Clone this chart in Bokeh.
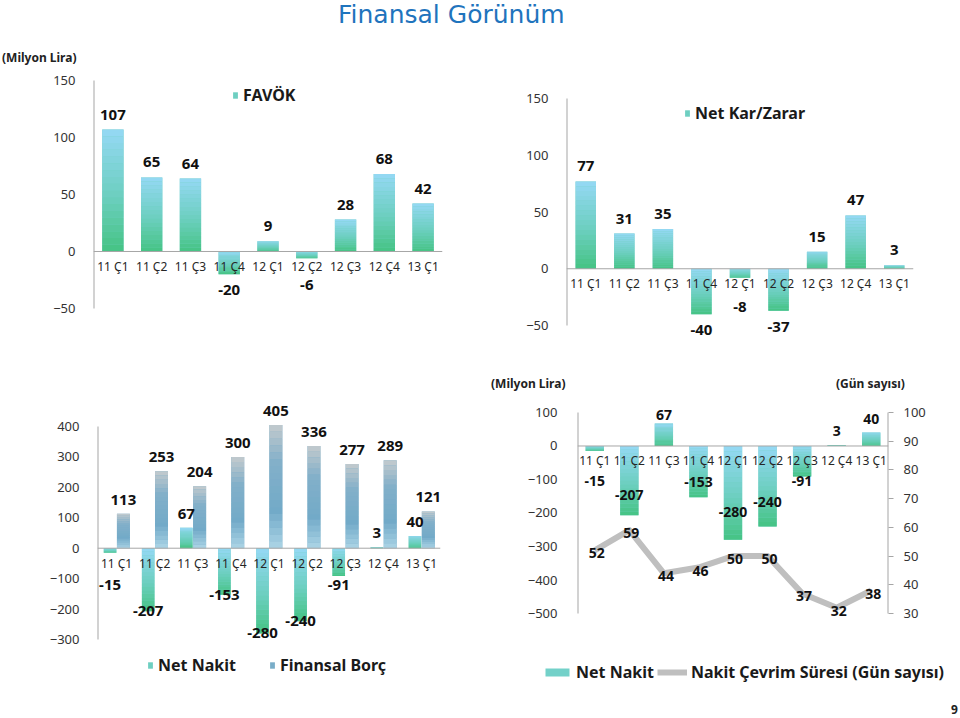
from bokeh.plotting import figure
from bokeh.models import (ColumnDataSource, LabelSet, Span, FixedTicker, Range1d,
                          FactorRange, LinearAxis, Legend, LegendItem, Div)
from bokeh.layouts import column, row
from bokeh.transform import dodge
from bokeh.embed import file_html
from bokeh.resources import INLINE
from bokeh.core.properties import value

# ---------------- data ----------------
quarters = ["11 Ç1", "11 Ç2", "11 Ç3", "11 Ç4", "12 Ç1", "12 Ç2", "12 Ç3", "12 Ç4", "13 Ç1"]
favok = [107, 65, 64, -20, 9, -6, 28, 68, 42]
net_kar_zarar = [77, 31, 35, -40, -8, -37, 15, 47, 3]
net_nakit = [-15, -207, 67, -153, -280, -240, -91, 3, 40]
finansal_borc = [113, 253, 204, 300, 405, 336, 277, 289, 121]
nakit_cevrim_gun = [52, 59, 44, 46, 50, 50, 37, 32, 38]

ticks_favok = [-50, 0, 50, 100, 150]
ticks_kar = [-50, 0, 50, 100, 150]
ticks_borc = [-300, -200, -100, 0, 100, 200, 300, 400]
ticks_nakit = [-500, -400, -300, -200, -100, 0, 100]
ticks_gun = [30, 40, 50, 60, 70, 80, 90, 100]

# ---------------- style ----------------
FONT = "Noto Sans"
AXIS_GRAY = "#a6a6a6"
GREEN_STOPS = [(0.0, "#95d9f5"), (0.55, "#6ccfbf"), (1.0, "#45c383")]
BORC_STOPS = [(0.0, "#c4cacd"), (0.3, "#83b0c9"), (0.7, "#72aac8"), (1.0, "#acd5e6")]
LINE_GRAY = "#bfbfbf"
N_SLICES = 18


def hex2rgb(h):
    h = h.lstrip("#")
    return tuple(int(h[i:i + 2], 16) for i in (0, 2, 4))


def mix(stops, t):
    for (t0, c0), (t1, c1) in zip(stops, stops[1:]):
        if t <= t1:
            f = (t - t0) / (t1 - t0) if t1 > t0 else 0.0
            a, b = hex2rgb(c0), hex2rgb(c1)
            return "#%02x%02x%02x" % tuple(round(a[i] + (b[i] - a[i]) * f) for i in range(3))
    return stops[-1][1]


def grad_bars(p, cats, vals, stops, width, offset=0.0, n=N_SLICES):
    xs, tops, bots, cols = [], [], [], []
    for c, v in zip(cats, vals):
        hi, lo = max(v, 0), min(v, 0)
        for k in range(n):
            xs.append(c)
            tops.append(hi - (hi - lo) * k / n)
            bots.append(hi - (hi - lo) * (k + 1) / n)
            cols.append(mix(stops, (k + 0.5) / n))
    base = ColumnDataSource(dict(x=list(cats), top=[max(v, 0) for v in vals],
                                 bottom=[min(v, 0) for v in vals]))
    p.vbar(x=dodge("x", offset, range=p.x_range), top="top", bottom="bottom", width=width,
           source=base, fill_color=mix(stops, 0.5), line_color=None)
    src = ColumnDataSource(dict(x=xs, top=tops, bottom=bots, color=cols))
    return p.vbar(x=dodge("x", offset, range=p.x_range), top="top", bottom="bottom", width=width,
                  source=src, fill_color="color", line_color=None)


def axis_line(p, ticks, side=-0.5, cat=None, y_range_name="default"):
    cat = quarters[0] if cat is None else cat
    src = ColumnDataSource(dict(x=[cat], y0=[min(ticks)], y1=[max(ticks)]))
    xs = dodge("x", side, range=p.x_range)
    p.segment(x0=xs, x1=xs, y0="y0", y1="y1", source=src, line_color=AXIS_GRAY,
              line_width=2, y_range_name=y_range_name)


def make_fig(height, left, right, bottom, yr, ticks):
    p = figure(width=480, height=height, x_range=FactorRange(*quarters),
               y_range=Range1d(*yr), output_backend="svg", toolbar_location=None,
               title=None, frame_align=False,
               min_border_left=left, min_border_right=right,
               min_border_top=0, min_border_bottom=bottom)
    p.xaxis.visible = False
    p.xgrid.visible = False
    p.ygrid.visible = False
    p.outline_line_color = None
    p.background_fill_color = "white"
    ax = p.yaxis[0]
    ax.ticker = FixedTicker(ticks=ticks)
    ax.axis_line_color = None
    ax.major_tick_line_color = None
    ax.minor_tick_line_color = None
    ax.major_label_text_font = FONT
    ax.major_label_text_font_size = "13px"
    ax.major_label_text_color = "#333333"
    ax.major_label_standoff = 12
    axis_line(p, ticks)
    p.add_layout(Span(location=0, dimension="width", line_color=AXIS_GRAY, line_width=1))
    return p


def cat_labels(p):
    src = ColumnDataSource(dict(x=quarters, y=[0] * len(quarters), t=quarters))
    p.add_layout(LabelSet(x="x", y="y", text="t", source=src, y_offset=-15,
                          text_align="center", text_baseline="middle",
                          text_font=value(FONT), text_font_size="12px", text_color="#262626"))


def val_labels(p, vals, anchors, offsets, offset=0.0, size="15px", y_range_name="default", x_off=0):
    src = ColumnDataSource(dict(x=quarters, y=anchors, t=[str(v) for v in vals], o=offsets))
    ls = LabelSet(x=dodge("x", offset, range=p.x_range), y="y", text="t", source=src,
                  y_offset="o", x_offset=x_off, text_align="center", text_baseline="middle",
                  text_font=value(FONT), text_font_size=size, text_font_style="bold",
                  text_color="#111111", y_range_name=y_range_name)
    p.add_layout(ls)


def legend(items, loc, gw=6, gh=8, standoff=5, spacing=30):
    return Legend(items=items, location=loc, orientation="horizontal",
                  border_line_color=None, background_fill_alpha=0, padding=0, margin=0,
                  glyph_width=gw, glyph_height=gh, label_standoff=standoff, spacing=spacing,
                  label_text_font=FONT, label_text_font_size="16px",
                  label_text_font_style="bold", label_text_color="#1a1a1a")


# ---------------- panel 1: FAVÖK ----------------
p1 = make_fig(292, 93, 38, 0, (-97.4, 158.8), ticks_favok)
r1 = grad_bars(p1, quarters, favok, GREEN_STOPS, 0.55)
cat_labels(p1)
val_labels(p1, favok, [v if v >= 0 else min(v, -15) for v in favok],
           [15 if v >= 0 else -16 for v in favok])
p1.add_layout(legend([LegendItem(label="FAVÖK", renderers=[r1], index=N_SLICES // 2)], (139, 256)))

# ---------------- panel 2: Net Kar/Zarar ----------------
p2 = make_fig(292, 86, 47, 0, (-82.6, 174.7), ticks_kar)
r2 = grad_bars(p2, quarters, net_kar_zarar, GREEN_STOPS, 0.53)
cat_labels(p2)
val_labels(p2, net_kar_zarar, [v if v >= 0 else min(v, -20) for v in net_kar_zarar],
           [15 if v >= 0 else -16 for v in net_kar_zarar])
p2.add_layout(legend([LegendItem(label="Net Kar/Zarar", renderers=[r2], index=N_SLICES // 2)],
                     (118, 238)))

# ---------------- panel 3: Net Nakit & Finansal Borç ----------------
p3 = make_fig(305, 97, 40, 0, (-500.5, 501.9), ticks_borc)
r3a = grad_bars(p3, quarters, net_nakit, GREEN_STOPS, 0.33, offset=-0.17)
r3b = grad_bars(p3, quarters, finansal_borc, BORC_STOPS, 0.34, offset=0.18)
cat_labels(p3)
val_labels(p3, net_nakit, [v if v >= 0 else min(v, -120) for v in net_nakit],
           [14 if v >= 0 else 0 for v in net_nakit], offset=-0.17)
val_labels(p3, finansal_borc, finansal_borc, [14] * len(finansal_borc), offset=0.18)
p3.add_layout(legend([LegendItem(label="Net Nakit", renderers=[r3a], index=N_SLICES // 2),
                      LegendItem(label="Finansal Borç", renderers=[r3b], index=N_SLICES // 2)],
                     (50, 24), spacing=33))

# ---------------- panel 4: Net Nakit & Nakit Çevrim Süresi ----------------
p4 = make_fig(250, 97, 72, 0, (-595.5, 150.7), ticks_nakit)
p4.yaxis[0].major_label_standoff = 14
p4.extra_y_ranges = {"gun": Range1d(18.86, 105.9)}
r4a = grad_bars(p4, quarters, net_nakit, GREEN_STOPS, 0.53)
line_src = ColumnDataSource(dict(x=quarters, y=nakit_cevrim_gun))
r4b = p4.line(x="x", y="y", source=line_src, y_range_name="gun", line_color=LINE_GRAY,
              line_width=6, line_join="round")
ax_r = LinearAxis(y_range_name="gun", ticker=FixedTicker(ticks=ticks_gun))
ax_r.axis_line_color = None
ax_r.major_tick_line_color = AXIS_GRAY
ax_r.major_tick_out = 5
ax_r.major_tick_in = 0
ax_r.minor_tick_line_color = None
ax_r.major_label_text_font = FONT
ax_r.major_label_text_font_size = "13px"
ax_r.major_label_text_color = "#333333"
ax_r.major_label_standoff = 10
p4.add_layout(ax_r, "right")
axis_line(p4, ticks_gun, side=0.5, cat=quarters[-1], y_range_name="gun")
cat_labels(p4)
val_labels(p4, net_nakit, [min(v, 50) if v >= 0 else min(0.7 * v, -105) for v in net_nakit],
           [14 if v >= 0 else 0 for v in net_nakit], size="14px")
val_labels(p4, nakit_cevrim_gun, nakit_cevrim_gun, [-3] * len(nakit_cevrim_gun),
           size="14px", y_range_name="gun", x_off=2)

# legend strip under panel 4 (its frame must reach further left/right than panel 4's frame);
# its sample glyphs carry the panel-4 styles and sit outside the strip's own visible range
leg4 = figure(width=480, height=55, x_range=Range1d(0, 1), y_range=Range1d(0, 1),
              output_backend="svg", toolbar_location=None, title=None, frame_align=False,
              x_axis_type=None, y_axis_type=None, min_border=0)
leg4.outline_line_color = None
leg4.xgrid.visible = False
leg4.ygrid.visible = False
lg_bar = leg4.vbar(x=[-5], top=[-5], bottom=[-6], width=0.1,
                   fill_color=mix(GREEN_STOPS, 0.45), line_color=None)
lg_line = leg4.line(x=[-5, -4], y=[-5, -5], line_color=LINE_GRAY, line_width=6)
leg4.add_layout(legend([LegendItem(label="Net Nakit", renderers=[lg_bar]),
                        LegendItem(label="Nakit Çevrim Süresi (Gün sayısı)", renderers=[lg_line])],
                       (62, 17), gw=30, gh=10, standoff=4, spacing=3))

# ---------------- page texts ----------------
TXT = "position:absolute;white-space:nowrap;font-family:'Noto Sans';"
top_div = Div(width=960, height=70, margin=0, text=(
    '<div style="position:relative;width:960px;height:70px;">'
    '<div style="position:absolute;white-space:nowrap;font-family:\'DejaVu Sans\';left:338px;top:0px;'
    'font-size:25px;line-height:30px;color:#1f74bd;">Finansal Görünüm</div>'
    f'<div style="{TXT}left:2px;top:50px;font-size:12px;line-height:16px;font-weight:bold;color:#222;">(Milyon Lira)</div>'
    '</div>'))
mid_div = Div(width=960, height=33, margin=0, text=(
    '<div style="position:relative;width:960px;height:33px;">'
    f'<div style="{TXT}left:491px;top:14px;font-size:12px;line-height:16px;font-weight:bold;color:#222;">(Milyon Lira)</div>'
    f'<div style="{TXT}left:836px;top:14px;font-size:12px;line-height:16px;font-weight:bold;color:#222;">(Gün sayısı)</div>'
    '</div>'))
foot_div = Div(width=960, height=18, margin=0, text=(
    '<div style="position:relative;width:960px;height:18px;">'
    f'<div style="{TXT}left:951px;top:2px;font-size:12px;line-height:16px;font-weight:bold;color:#222;">9</div>'
    '</div>'))

layout = column(top_div, row(p1, p2), mid_div, row(p3, column(p4, leg4)), foot_div)
open("out.html", "w").write(file_html(layout, INLINE))
